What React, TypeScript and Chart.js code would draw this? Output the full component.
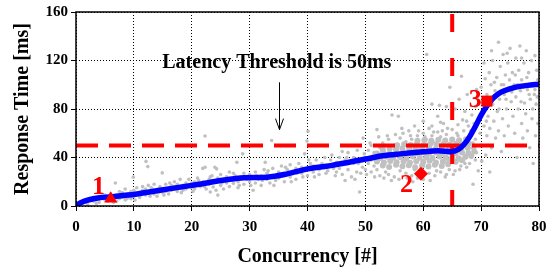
import React, { useEffect, useRef } from 'react';
import Chart from 'chart.js/auto';

// ---- axes ----
const xMin = 0, xMax = 80, xStep = 10;
const yMin = 0, yMax = 160, yStep = 40;
const xTitle = 'Concurrency [#]';
const yTitle = 'Response Time [ms]';

// ---- blue response-time curve ----
const curveX = [0, 1, 2, 3, 4, 6, 9, 14.5, 20, 26, 29, 33, 36.5, 40, 44, 50, 53, 56, 60, 62.5, 64.8, 66, 67, 68, 69, 70, 71, 72, 73, 74, 76, 78, 80];
const curveY = [0.5, 3, 4.8, 6, 6.8, 7.6, 9, 13, 17, 21.6, 23.3, 23.8, 26.5, 30.6, 33.3, 38.7, 41.4, 43, 44.7, 45.5, 44.8, 46.5, 50.5, 57, 65.5, 75, 82.5, 88.5, 92.5, 95, 98, 99.5, 100.5];

// ---- gray measured samples ----
const samples: [number, number][] = [
  [1,2],[1.5,4],[2,3],[2.5,5],[3,4],[3,7],[3.5,5],[4,6],[4,3],[4.5,8],[5,5],[5,9],[5.5,4],[6,10],[6,5],[6.5,7],[6.8,19],[7,9],[7,4],[7.5,12],[7.5,6],[8,8],[8,11],[8.5,5],[8.5,14],[9,7],[9,10],[9.5,12],[9.5,6],[10,8],[10,13],[9.9,23.8],[10.5,10],[10.5,15],
  [2,1],[3.5,2],[5.5,7],[6.5,3],[7.8,10],[8.8,6],[10.2,5],[11.2,9],[12.8,8],[13.2,14],[14.2,11],[15.2,9],[16.2,19],[17.2,14],[18.2,11],[19.2,16],[20.2,12],[21.2,21],[22.2,16],[23.2,24],[24.2,13],[25.2,19],[26.2,21],[27.2,27],[28.2,17],[29.2,24],[30.2,17],[31.2,25],[32.2,21],[33.2,29],[34.2,17],[35.2,26],[36.2,32],[37.2,20],[38.2,27],[39.2,24],[40.2,38],[41.2,24],[42.2,33],[43.2,27],[44.2,42],[44.8,25],
  [11,11],[11,7],[11.5,13],[11.5,16],[12,9],[12,14],[12.1,36.8],[12.4,32.5],[12.5,11],[12.5,17],[13,12],[13,15],[13.5,10],[13.5,18],[14,13],[14,8],[14.5,16],[14.9,27.3],[15,11],[15,14],[15.5,18],[15.5,12],[16,15],[16,10],[16.5,17],[16.5,13],[17,16],[17,20],[17.5,12],[17.5,18],[18,15],[18,22],[18.5,17],[18.5,13],[19,19],[19,14],[19.5,17],[19.5,22],[20,15],[20,19],
  [20.5,14],[20.5,20],[21,18],[21,23],[21.5,16],[21.9,31],[22,20],[22.3,57.7],[22.3,32],[22.5,14],[23,22],[23,18],[23.2,11.6],[23.5,25],[23.7,15.7],[24,20],[24,32],[24.3,30.6],[24.5,9],[24.5,23],[25,17],[25,26],[25.5,21],[25.5,14],[26,19],[26,24],[26.5,16],[26.5,28],[27,22],[27.2,18.7],[27.5,25],[27.8,36],[28,20],[28,15],[28.5,24],[28.8,43],[29,18],[29,27],[29.5,22],[30,20],[30,26],[30.6,13],
  [30.5,24],[31,19],[31,28],[31.5,22],[32,25],[32,17],[32.5,30],[32.7,36],[33,22],[33,27],[33.5,19],[33.8,54],[34,25],[34,31],[34.5,21],[35,28],[35,23],[35.5,33],[36,26],[36,20],[36.5,30],[37,24],[37,34],[37.5,28],[38,31],[38,22],[38.5,35],[39,27],[39,32],[39.5,43],[40,30],[40,25],[39.9,53.6],[40.1,61.7],[40.5,35],[41,28],[41,33],[41.5,38],[42,30],[42,26],[42.5,35],[43,32],[43,40],[43.5,29],[44,34],[44,38],[44.5,31],[45,36],[45,28],
  [45.5,31],[45.5,40],[46,34],[46,26],[46.5,38],[46.5,21],[46.8,40],[47,30],[47,44],[47.6,24],[48,35],[48,40],[48.5,28],[48.8,35],[49,11.6],[49,38],[49.5,32],[49.6,56],[49.8,43],[50,30],[50,40],[50.5,35],[50.5,46],[51,28],[51,38],[51,50],[51.5,33],[51.5,44],[52,63],[52,30],[52.5,48],[52.5,25],
  [46,45],[47.2,36],[48.2,22],[48.6,46],[49.2,27],[50.2,26],[50.8,52],[51.6,24],[52.3,57],[53.2,23],[53.8,58],[54.5,21],[55.2,59],[55.8,22],[56.3,64],[57.2,23],[57.8,58],[58.2,20],[59.2,62],[59.8,25],[60.3,57],[61.2,21],[61.8,61],[62.3,29],[63.3,62],[63.8,24],[64.2,64],[65.2,26],[65.8,60],[66.3,30],[66.8,71],[67.2,35],[67.8,66],[68.3,40],[68.6,52],[69,38],
  [53,52],[53.5,28],[54,55],[54,26],[54.6,75],[55,50],[55,24],[55.7,74],[56,56],[56,29],[56.5,60],[57,27],[57,53],[57.5,62],[58,25],[58,55],[58.5,30],[58.5,66],[59,58],[59,23],[59.5,28],[60,60],[60.6,125],[60,22],[60.5,55],[61,64],[61,27],[61.5,58],[62,25],[62,52],[62.5,61],[63,28],[63,57],[63.5,68],[64,26],[64,59],[64.6,98],[64.5,30],[65,55],[65,63],[65.5,29],[66,58],[66,67],[66.6,107],[66.5,33],[67,62],[67,38],[67.5,70],[67.5,32],[68,56],[68,35],[68.6,18],[71.5,28],[70.1,37],[69.5,29],
  [60,70],[61.5,66],[62.5,74],[63,69],[61.5,84],[62.8,83],[64,82],[65.5,80],[66.2,88],[67.2,78],[67.6,92],
  [68.2,62],[68.4,75],[68.5,48],[68.8,68],[69,82],[69,55],[69.2,44],[69.4,90],[69.6,72],[69.8,60],[70,98],[70,50],[70.3,85],[70.5,66],[70.7,105],[70.8,42],[71,92],[71,58],
  [71.2,74],[71.4,110],[71.5,64],[71.7,100],[71.8,48],[72,84],[72,120],[72.2,70],[72.4,95],[72.5,56],[72.7,106],[72.8,78],[73,135],[73,62],[73.2,88],[73.3,115],[73.5,100],[73.5,45],[73.7,72],[73.8,125],[74,92],[74,58],[74.2,108],[74.4,80],
  [74.6,118],[74.7,66],[74.8,97],[75,130],[75,50],[75.2,86],[75.4,110],[75.5,74],[75.7,100],[75.8,60],[76,122],[76,90],[76.2,40],[76.4,80],[76.5,112],[76.7,132],[76.8,95],[77,68],[77,104],[77.2,56],
  [77.4,118],[77.5,85],[77.7,76],[77.8,128],[78,96],[78,62],[78.2,110],[78.4,48],[78.5,88],[78.7,120],[78.8,72],[79,100],[79,35],[79.2,92],[79.3,124],[79.4,58],[79.5,84],[79.6,112],[79.8,68],[79.8,104],
  [69.2,96],[70.2,78],[70.9,70],[71.6,86],[72.3,102],[72.6,90],[73.1,80],[73.9,100],[74.3,88],[74.9,104],[75.3,94],[75.9,108],[76.3,100],[76.9,86],[77.3,98],[77.9,106],[78.3,92],[78.9,80],[79.3,96],[79.7,90],[70.5,118],[71.8,128],[74.5,126],[77,122],
];

// dense core of the sample cloud
const denseSamples: [number, number][] = [
  [53.0,33.5],[54.1,32.2],[55.3,34.0],[56.4,32.8],[57.5,33.6],[58.6,31.9],[59.8,33.2],[60.9,32.5],[62.0,34.1],[63.2,32.9],[64.3,34.4],
  [52.0,36.8],[53.2,35.9],[54.3,37.2],[55.4,36.1],[56.6,37.0],[57.7,35.7],[58.8,36.9],[60.0,36.2],[61.1,37.4],[62.2,35.8],[63.4,36.7],[64.5,37.3],[65.6,36.4],[66.7,37.8],
  [51.4,40.2],[52.6,39.5],[53.7,40.6],[54.8,39.8],[56.0,40.4],[57.1,39.3],[58.2,40.8],[59.4,39.7],[60.5,40.3],[61.6,39.6],[62.8,40.9],[63.9,39.9],[65.0,40.5],[66.1,39.4],[67.3,40.7],[68.3,41.5],
  [52.0,43.2],[53.1,44.0],[54.2,43.4],[55.4,43.9],[56.5,43.1],[57.6,44.2],[58.8,43.6],[59.9,44.3],[61.0,43.3],[62.2,44.1],[63.3,43.7],[64.4,44.4],[65.6,43.5],[66.7,44.2],[67.8,43.8],[68.8,45.0],
  [53.0,46.6],[54.2,47.3],[55.3,46.8],[56.4,47.5],[57.6,46.9],[58.7,47.6],[59.8,47.0],[61.0,47.7],[62.1,46.8],[63.2,47.4],[64.4,47.1],[65.5,47.8],[66.6,47.2],[67.7,47.9],[68.7,48.5],
  [55.5,50.2],[56.7,50.9],[57.8,50.4],[58.9,51.0],[60.1,50.6],[61.2,51.2],[62.3,50.5],[63.5,51.1],[64.6,50.7],[65.7,51.3],[66.9,50.8],[67.9,51.5],
  [59.0,53.8],[60.2,54.5],[61.4,53.9],[62.6,54.6],[63.8,54.1],[65.0,54.8],[66.2,54.3],[67.4,55.0],
];

// ---- threshold lines ----
const thresholdLatency = 50;
const thresholdConcurrency = 65;

// ---- numbered markers ----
const markerLabels = ['1', '2', '3'];
const markerX = [6, 59.6, 71];
const markerY = [6, 26.5, 86.5];
const markerStyles = ['triangle', 'rectRot', 'rect'];
const markerSizes = [7.5, 7, 7.8];
const labelX = [3.9, 57.1, 69.0];
const labelY = [10.3, 11.6, 82];

// ---- annotation text ----
const noteText = 'Latency Threshold is 50ms';
const noteX = 34.7;
const noteY = 113.7;
const arrowX = 35;
const arrowFrom = 102;
const arrowTo = 63;

const FONT = '"Liberation Serif", "Times New Roman", serif';

const annotations = {
  id: 'annotations',
  afterDatasetsDraw(chart: any) {
    const { ctx, scales } = chart;
    const x = scales.x, y = scales.y;
    ctx.save();
    ctx.textAlign = 'center';
    ctx.textBaseline = 'alphabetic';
    ctx.fillStyle = '#ff0000';
    ctx.font = `bold 26px ${FONT}`;
    markerLabels.forEach((t, i) => {
      ctx.fillText(t, x.getPixelForValue(labelX[i]), y.getPixelForValue(labelY[i]));
    });
    ctx.fillStyle = '#000';
    ctx.font = `bold 20px ${FONT}`;
    ctx.fillText(noteText, x.getPixelForValue(noteX), y.getPixelForValue(noteY));
    const ax = Math.round(x.getPixelForValue(arrowX)) + 0.5;
    const y0 = y.getPixelForValue(arrowFrom);
    const y1 = y.getPixelForValue(arrowTo);
    ctx.strokeStyle = '#000';
    ctx.lineWidth = 1;
    ctx.beginPath();
    ctx.moveTo(ax, y0);
    ctx.lineTo(ax, y1);
    ctx.moveTo(ax - 4, y1 - 11);
    ctx.lineTo(ax, y1);
    ctx.lineTo(ax + 4, y1 - 11);
    ctx.stroke();
    ctx.restore();
  },
  afterDraw(chart: any) {
    const { ctx, chartArea: a } = chart;
    ctx.save();
    ctx.strokeStyle = '#000';
    ctx.lineWidth = 1.5;
    ctx.strokeRect(a.left, a.top, a.right - a.left, a.bottom - a.top);
    ctx.restore();
  },
};

export default function App() {
  const ref = useRef<HTMLCanvasElement | null>(null);
  useEffect(() => {
    if (!ref.current) return;
    const toPts = (arr: [number, number][]) => arr.map(([px, py]) => ({ x: px, y: py }));
    const markerSets = markerLabels.map((_, i) => ({
      label: 'marker' + markerLabels[i],
      data: [{ x: markerX[i], y: markerY[i] }],
      pointStyle: markerStyles[i],
      pointRadius: markerSizes[i],
      backgroundColor: '#ff0000',
      borderColor: '#ff0000',
      borderWidth: 0,
      showLine: false,
      order: 0,
    }));
    const chart = new Chart(ref.current, {
      type: 'scatter',
      data: {
        datasets: [
          ...markerSets,
          {
            label: 'curve',
            data: curveX.map((cx, i) => ({ x: cx, y: curveY[i] })),
            showLine: true,
            borderColor: '#0000ff',
            borderWidth: 5.5,
            pointRadius: 0,
            cubicInterpolationMode: 'monotone',
            borderCapStyle: 'round',
            order: 1,
          },
          {
            label: 'latency threshold',
            data: [{ x: xMin, y: thresholdLatency }, { x: xMax, y: thresholdLatency }],
            showLine: true,
            borderColor: '#ff0000',
            borderWidth: 4,
            borderDash: [22, 11],
            pointRadius: 0,
            order: 2,
          },
          {
            label: 'concurrency threshold',
            data: [{ x: thresholdConcurrency, y: yMax }, { x: thresholdConcurrency, y: yMin }],
            showLine: true,
            borderColor: '#ff0000',
            borderWidth: 4,
            borderDash: [18, 26],
            borderDashOffset: -2,
            pointRadius: 0,
            order: 2,
          },
          {
            label: 'samples',
            data: toPts(samples),
            pointRadius: 1.8,
            backgroundColor: '#c0c0c0',
            borderWidth: 0,
            order: 3,
          },
          {
            label: 'dense samples',
            data: toPts(denseSamples),
            pointRadius: 3,
            backgroundColor: '#c0c0c0',
            borderWidth: 0,
            order: 3,
          },
        ],
      },
      options: {
        responsive: false,
        animation: false,
        events: [],
        layout: { padding: { top: 8, right: 16, left: 0, bottom: 0 } },
        plugins: { legend: { display: false }, tooltip: { enabled: false } },
        scales: {
          x: {
            type: 'linear',
            min: xMin,
            max: xMax,
            afterFit: (s: any) => { s.height = 64; },
            ticks: { stepSize: xStep, color: '#000', padding: 7, font: { family: FONT, size: 15, weight: 'bold' } },
            grid: { color: '#000', lineWidth: 1, tickLength: 5, tickColor: '#000', tickBorderDash: [] },
            border: { display: false, dash: [1, 2] },
            title: { display: true, text: xTitle, color: '#000', padding: { top: 0, bottom: 1 }, font: { family: FONT, size: 20, weight: 'bold' } },
          },
          y: {
            type: 'linear',
            min: yMin,
            max: yMax,
            afterFit: (s: any) => { s.width = 76; },
            ticks: { stepSize: yStep, color: '#000', padding: 3, font: { family: FONT, size: 15, weight: 'bold' } },
            grid: { color: '#000', lineWidth: 1, tickLength: 5, tickColor: '#000', tickBorderDash: [] },
            border: { display: false, dash: [1, 2] },
            title: { display: true, text: yTitle, color: '#000', padding: { top: 11, bottom: 0 }, font: { family: FONT, size: 20, weight: 'bold' } },
          },
        },
      },
      plugins: [annotations],
    } as any);
    return () => chart.destroy();
  }, []);
  return (
    <div style={{ position: 'fixed', left: 0, top: 0, width: 555, height: 270, background: '#fff' }}>
      <canvas ref={ref} width={555} height={270} style={{ display: 'block', width: 555, height: 270 }} />
    </div>
  );
}
